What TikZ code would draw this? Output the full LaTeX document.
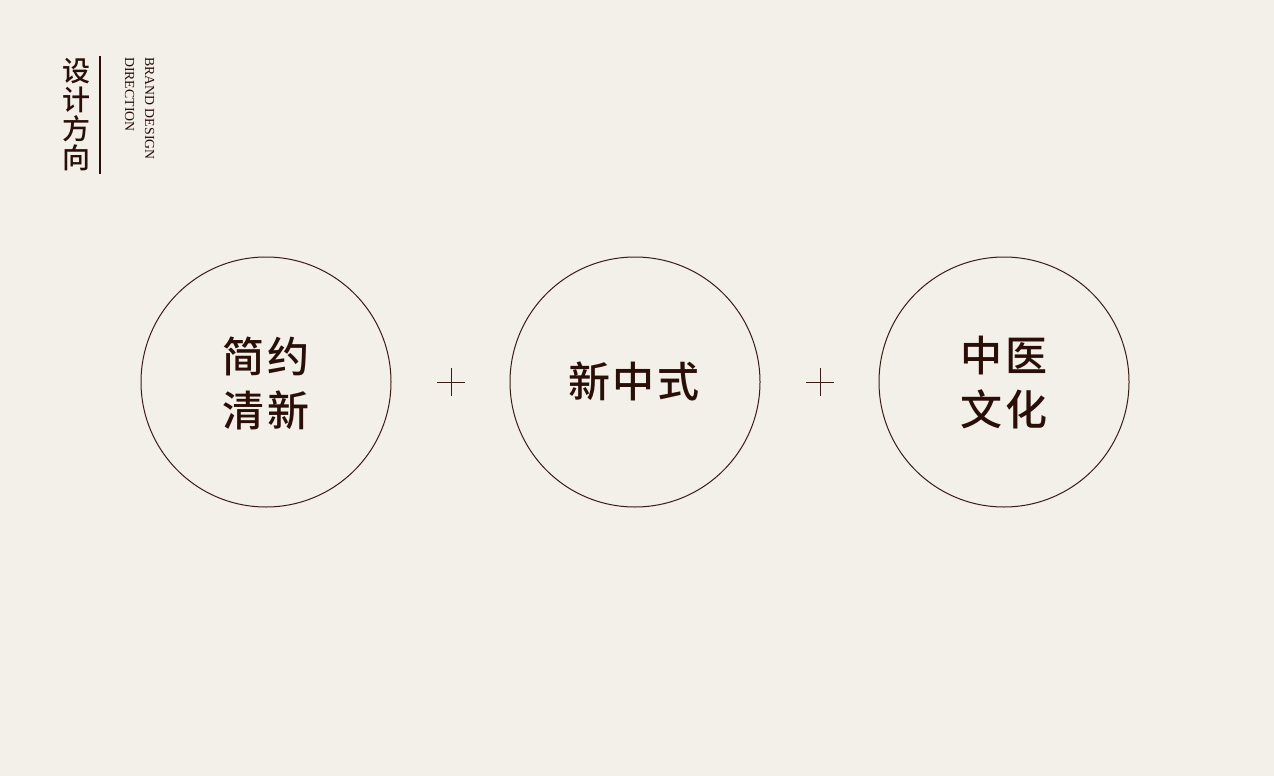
\documentclass[tikz,border=0pt]{standalone}
\usepackage{fontspec}
\setmainfont{Liberation Serif}
\newfontfamily\cjk{Noto Sans CJK SC}
\newfontfamily\cjkm{Noto Sans CJK SC}[UprightFont={* Medium}]
\definecolor{bg}{HTML}{F3EFE9}
\definecolor{ink}{HTML}{2A0F08}
\definecolor{ring}{HTML}{3A1C16}
\begin{document}
\begin{tikzpicture}[x=1pt,y=-1pt,
  circ/.style={draw=ring, line width=1pt, circle, minimum size=250pt, inner sep=0pt},
  big/.style={text=ink, font=\cjkm\fontsize{42}{54}\selectfont, align=center},
  plusmark/.style={draw=ring, line width=0.9pt}]
\fill[bg] (0,0) rectangle (1274,776);
\useasboundingbox (0,0) rectangle (1274,776);
% header
\node[text=ink, font=\cjkm\fontsize{28}{29}\selectfont, align=center, inner sep=0pt] (title) at (76,115) {设\\计\\方\\向};
\draw[ink, line width=1.5pt] (100,56) coordinate (la) -- (100,174) coordinate (lb);
\node[text=ink, font=\fontsize{13.8}{20}\selectfont, rotate=-90, anchor=north west, align=left, inner sep=0pt] (en) at (154.5,57) {BRAND DESIGN\\DIRECTION};
% circles
\node[circ] (c1) at (266,382) {};
\node[circ] (c2) at (635,382) {};
\node[circ] (c3) at (1004,382) {};
\node[big] (t1) at (266,383) {简\hspace{3pt}约\\清\hspace{3pt}新};
\node[big] (t2) at (634,381) {新\hspace{3pt}中\hspace{3pt}式};
\node[big] (t3) at (1004,383) {中\hspace{3pt}医\\文\hspace{3pt}化};
% plus signs
\coordinate (p1) at (451,382);
\coordinate (p2) at (820,382);
\draw[plusmark] ([xshift=-14pt]p1) -- ([xshift=14pt]p1) ([yshift=-14pt]p1) -- ([yshift=14pt]p1);
\draw[plusmark] ([xshift=-14pt]p2) -- ([xshift=14pt]p2) ([yshift=-14pt]p2) -- ([yshift=14pt]p2);
\end{tikzpicture}
\end{document}
